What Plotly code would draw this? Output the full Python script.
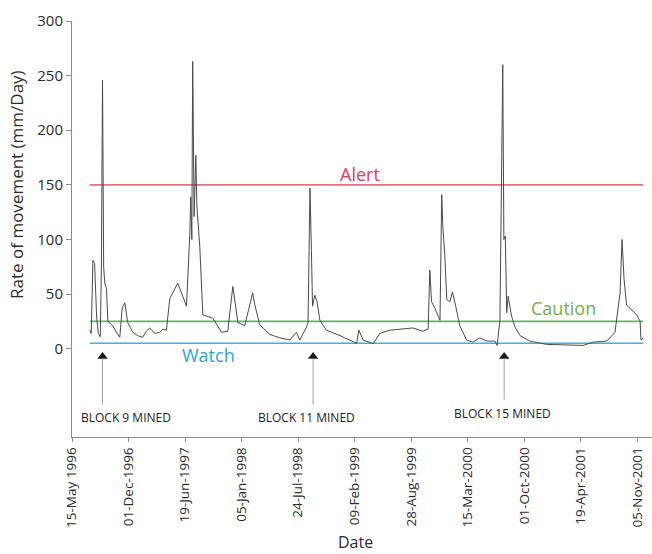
import plotly.graph_objects as go

# Daily rate of movement readings (mm/day)
dates = [
    "1996-07-17", "1996-07-22", "1996-07-28", "1996-08-03", "1996-08-10", "1996-08-16",
    "1996-08-23", "1996-08-27", "1996-08-31", "1996-09-01", "1996-09-04", "1996-09-08",
    "1996-09-14", "1996-09-19", "1996-10-06", "1996-10-24", "1996-10-31", "1996-11-09",
    "1996-11-18", "1996-11-28", "1996-12-16", "1997-01-02", "1997-01-20", "1997-02-02",
    "1997-02-14", "1997-03-04", "1997-03-21", "1997-04-01", "1997-04-14", "1997-04-26",
    "1997-05-14", "1997-05-24", "1997-06-11", "1997-06-24", "1997-07-06", "1997-07-09",
    "1997-07-13", "1997-07-16", "1997-07-21", "1997-07-27", "1997-07-31", "1997-08-10",
    "1997-08-21", "1997-09-25", "1997-10-26", "1997-11-17", "1997-12-05", "1997-12-12",
    "1997-12-23", "1998-01-16", "1998-02-03", "1998-02-13", "1998-02-21", "1998-03-10",
    "1998-04-15", "1998-05-20", "1998-06-25", "1998-07-18", "1998-07-30", "1998-08-23",
    "1998-08-28", "1998-09-01", "1998-09-04", "1998-09-09", "1998-09-13", "1998-09-21",
    "1998-09-29", "1998-10-09", "1998-11-01", "1998-12-19", "1999-02-16", "1999-02-24",
    "1999-03-11", "1999-04-16", "1999-05-09", "1999-06-14", "1999-09-03", "1999-10-08",
    "1999-10-27", "1999-11-02", "1999-11-08", "1999-11-20", "1999-12-08", "1999-12-14",
    "1999-12-18", "1999-12-25", "2000-01-01", "2000-01-12", "2000-01-21", "2000-01-30",
    "2000-02-16", "2000-03-11", "2000-04-02", "2000-04-27", "2000-05-21", "2000-06-19",
    "2000-06-27", "2000-07-07", "2000-07-13", "2000-07-17", "2000-07-21", "2000-07-26",
    "2000-07-31", "2000-08-05", "2000-08-17", "2000-08-29", "2000-09-16", "2000-10-21",
    "2000-12-19", "2001-03-22", "2001-04-27", "2001-06-01", "2001-07-20", "2001-08-18",
    "2001-09-05", "2001-09-12", "2001-09-19", "2001-09-28", "2001-11-03", "2001-11-15",
    "2001-11-18", "2001-11-26",
]
rate = [
    17, 14, 81, 78, 30, 14,
    11, 75, 246, 176, 75, 60,
    55, 25, 21, 13, 10.5, 38,
    42, 24, 15, 12, 10.4, 16,
    19, 14, 15, 18, 17, 46,
    55, 60, 48, 39, 106, 139,
    100, 263, 121, 177, 130, 94,
    31, 28, 15, 16, 57, 42,
    24, 21, 39, 51, 40, 22,
    13, 10, 8, 15, 8, 20,
    24, 94, 147, 90, 39, 49,
    43, 26, 17, 12, 5, 17,
    8, 4.6, 14, 17, 19, 16,
    18, 72, 43, 37, 26, 141,
    112, 85, 45, 43, 52, 42,
    21, 8, 6, 10, 7, 7,
    3, 26, 191, 260, 100, 103,
    33, 48, 30, 20, 12, 7,
    4, 3, 3, 6, 7, 15,
    51, 100, 64, 40, 31, 25,
    8, 10,
]

# Trigger levels (mm/day)
level_names = ["Alert", "Caution", "Watch"]
level_values = [150, 25, 5]
level_line_colors = ["#ea6f7c", "#5cb85c", "#3fb0e4"]
level_text_colors = ["#e2405c", "#6db33f", "#27a4de"]
level_label_pos = [(0.4966, 0.6325), (0.8466, 0.3099), (0.2345, 0.1977)]

# Mining events
mined_labels = ["BLOCK 9 MINED", "BLOCK 11 MINED", "BLOCK 15 MINED"]
mined_dates = ["1996-08-31", "1998-09-15", "2000-07-22"]
mined_text_shift = [23, -7, -2]
mined_text_y = [-63, -63, -59.5]
mined_stem_bottom = [-51, -51, -46.5]

# Axis ticks
tick_dates = [
    "1996-05-15", "1996-12-01", "1997-06-19", "1998-01-05", "1998-07-24", "1999-02-09",
    "1999-08-28", "2000-03-15", "2000-10-01", "2001-04-19", "2001-11-05",
]
tick_text = [
    "15-May 1996", "01-Dec-1996", "19-Jun-1997", "05-Jan-1998", "24-Jul-1998", "09-Feb-1999",
    "28-Aug-1999", "15-Mar-2000", "01-Oct-2000", "19-Apr-2001", "05-Nov-2001",
]
y_ticks = [0, 50, 100, 150, 200, 250, 300]

FONT = "Open Sans"
AXIS_COLOR = "#8c8c8c"
TEXT_COLOR = "#2b2b2b"

fig = go.Figure()

# Trigger level lines across the monitoring period
for name, val, col in zip(level_names, level_values, level_line_colors):
    fig.add_trace(go.Scatter(
        x=[dates[0], dates[-1]], y=[val, val], mode="lines",
        line=dict(color=col, width=1.6), hoverinfo="skip", showlegend=False, name=name,
    ))

# Movement rate series
fig.add_trace(go.Scatter(
    x=dates, y=rate, mode="lines",
    line=dict(color="#4a4a4a", width=1), showlegend=False, name="Rate",
))

# Arrow heads for mining events
fig.add_trace(go.Scatter(
    x=mined_dates, y=[-7] * len(mined_dates), mode="markers",
    marker=dict(symbol="triangle-up", size=9, color="#1a1a1a"),
    hoverinfo="skip", showlegend=False,
))

annotations = []
shapes = []

for name, col, (px, py) in zip(level_names, level_text_colors, level_label_pos):
    annotations.append(dict(
        text=name, x=px, y=py, xref="paper", yref="paper", showarrow=False,
        font=dict(family=FONT, size=18, color=col), xanchor="center", yanchor="middle",
    ))

for lab, d, dx, ty, sb in zip(mined_labels, mined_dates, mined_text_shift, mined_text_y, mined_stem_bottom):
    shapes.append(dict(
        type="line", xref="x", yref="y", x0=d, x1=d, y0=-9, y1=sb,
        line=dict(color="#a0a0a0", width=1),
    ))
    annotations.append(dict(
        text=lab, x=d, y=ty, xref="x", yref="y", xshift=dx, showarrow=False,
        font=dict(family=FONT, size=12, color="#222222"), xanchor="center", yanchor="middle",
    ))

annotations.append(dict(
    text="Rate of movement (mm/Day)", x=-0.0948, y=0.606, xref="paper", yref="paper",
    textangle=-90, showarrow=False, xanchor="center", yanchor="middle",
    font=dict(family=FONT, size=17, color=TEXT_COLOR),
))
annotations.append(dict(
    text="Date", x=0.488, y=-0.252, xref="paper", yref="paper",
    showarrow=False, xanchor="center", yanchor="middle",
    font=dict(family=FONT, size=16, color=TEXT_COLOR),
))

fig.update_layout(
    width=652, height=554,
    margin=dict(l=72, r=0, t=21, b=117),
    paper_bgcolor="white", plot_bgcolor="white",
    annotations=annotations, shapes=shapes,
    font=dict(family=FONT, color=TEXT_COLOR),
)

fig.update_xaxes(
    type="date", range=["1996-05-15", "2001-12-27"],
    tickvals=tick_dates, ticktext=tick_text, tickangle=-90,
    tickfont=dict(family=FONT, size=13.5, color=TEXT_COLOR),
    showline=True, linecolor=AXIS_COLOR, linewidth=1,
    ticks="outside", ticklen=4, tickcolor=AXIS_COLOR,
    showgrid=False, zeroline=False,
)
fig.update_yaxes(
    range=[-80.8, 300], tickvals=y_ticks,
    tickfont=dict(family=FONT, size=15, color=TEXT_COLOR),
    showline=True, linecolor=AXIS_COLOR, linewidth=1,
    ticks="outside", ticklen=5, tickcolor=AXIS_COLOR,
    showgrid=False, zeroline=False,
)

fig.write_html("out.html")
